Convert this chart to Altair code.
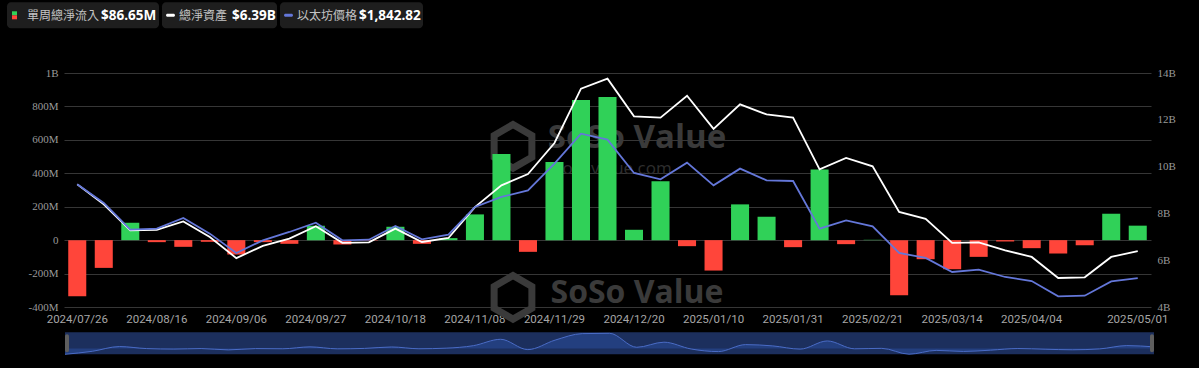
import altair as alt
import pandas as pd

# ---------------- data ----------------
dates = [
    "2024/07/26", "2024/08/02", "2024/08/09", "2024/08/16", "2024/08/23", "2024/08/30",
    "2024/09/06", "2024/09/13", "2024/09/20", "2024/09/27", "2024/10/04", "2024/10/11",
    "2024/10/18", "2024/10/25", "2024/11/01", "2024/11/08", "2024/11/15", "2024/11/22",
    "2024/11/29", "2024/12/06", "2024/12/13", "2024/12/20", "2024/12/27", "2025/01/03",
    "2025/01/10", "2025/01/17", "2025/01/24", "2025/01/31", "2025/02/07", "2025/02/14",
    "2025/02/21", "2025/02/28", "2025/03/07", "2025/03/14", "2025/03/21", "2025/03/28",
    "2025/04/04", "2025/04/11", "2025/04/18", "2025/04/25", "2025/05/01",
]
net_inflow_m = [
    -336, -166, 104, -12, -40, -10, -86, -12, -22, 86, -26, -2, 80, -22, 12, 154, 516, -70,
    468, 838, 856, 62, 352, -36, -182, 214, 140, -42, 422, -24, 2, -330, -114, -174, -100,
    -8, -48, -80, -30, 158, 86.65,
]
net_assets_b = [
    9.24, 8.39, 7.28, 7.30, 7.66, 6.99, 6.09, 6.61, 6.92, 7.45, 6.74, 6.76, 7.35, 6.78, 6.95,
    8.27, 9.20, 9.68, 11.01, 13.33, 13.76, 12.15, 12.09, 13.03, 11.61, 12.66, 12.23, 12.09,
    9.88, 10.37, 10.01, 8.06, 7.77, 6.74, 6.76, 6.42, 6.14, 5.24, 5.27, 6.14, 6.39,
]
eth_price = [
    3269, 2986, 2580, 2596, 2758, 2520, 2226, 2418, 2545, 2687, 2418, 2428, 2636, 2434, 2505,
    2925, 3077, 3178, 3584, 4039, 3948, 3442, 3345, 3599, 3254, 3508, 3330, 3320, 2596, 2722,
    2631, 2226, 2150, 1937, 1973, 1861, 1800, 1567, 1577, 1795, 1842.82,
]
x_label_dates = [dates[i] for i in range(0, 37, 3)] + [dates[-1]]
left_ticks = [-400, -200, 0, 200, 400, 600, 800, 1000]
right_ticks = [4, 6, 8, 10, 12, 14]

legend_labels = ["單周總淨流入", "總淨資產", "以太坊價格"]
legend_values = ["$86.65M", "$6.39B", "$1,842.82"]
watermark_text = "SoSo Value"
watermark_sub = "sosovalue.com"

# ---------------- styles ----------------
GREEN = "#30d158"
RED = "#ff453a"
WHITE = "#ffffff"
BLUE = "#6477d9"
GRID = "#363636"
BG = "#000000"

W, H = 1087, 234
OX, OY = 64, 72.7  # page position of plot origin


def px(v):
    return v - OX


def py(v):
    return v - OY


df = pd.DataFrame({
    "date": dates,
    "flow": net_inflow_m,
    "assets": net_assets_b,
    "price": eth_price,
})
df["sign"] = ["in" if v >= 0 else "out" for v in df["flow"]]
df["idx"] = list(range(len(dates)))

dummy = pd.DataFrame({"k": [0]})


def rect(x1, y1, x2, y2, color, r=0):
    return alt.Chart(dummy).mark_rect(color=color, cornerRadius=r).encode(
        x=alt.value(px(x1)), x2=alt.value(px(x2)), y=alt.value(py(y1)), y2=alt.value(py(y2))
    )


def text(s, x, y, size, color, weight="normal", font="Noto Sans CJK TC", align="left", **kw):
    return alt.Chart(dummy).mark_text(
        text=s, fontSize=size, color=color, fontWeight=weight, font=font,
        align=align, baseline="middle", **kw
    ).encode(x=alt.value(px(x)), y=alt.value(py(y)))


hexpath = "M0,-1L0.866,-0.5L0.866,0.5L0,1L-0.866,0.5L-0.866,-0.5Z"


def logo(x, y):
    return alt.Chart(dummy).mark_point(
        shape=hexpath, size=1900, filled=False, stroke="#3a3a3a", strokeWidth=7, opacity=1
    ).encode(x=alt.value(px(x)), y=alt.value(py(y)))


bars = alt.Chart(df).mark_bar().encode(
    x=alt.X(
        "date:N", sort=None,
        scale=alt.Scale(paddingInner=0.32, paddingOuter=0.16),
        axis=alt.Axis(
            values=x_label_dates, labelAngle=0, ticks=False, domain=False, grid=False,
            labelColor="#a6a6a6", labelFont="Roboto", labelFontSize=11.5, labelPadding=6,
            title=None,
        ),
    ),
    y=alt.Y(
        "flow:Q",
        scale=alt.Scale(domain=[-400, 1000], nice=False, zero=False),
        axis=alt.Axis(
            orient="left", values=left_ticks,
            labelExpr="datum.value == 0 ? '0' : (datum.value >= 1000 ? '1B' : datum.value + 'M')",
            grid=True, gridColor=GRID, gridWidth=1, domain=False, ticks=False, title=None,
            labelFont="Liberation Serif", labelFontSize=11, labelColor="#9a9a9a", labelPadding=6,
        ),
    ),
    color=alt.Color("sign:N", scale=alt.Scale(domain=["in", "out"], range=[GREEN, RED]), legend=None),
)

white_line = alt.Chart(df).mark_line(color=WHITE, strokeWidth=1.8).encode(
    x=alt.X("date:N", sort=None, axis=None),
    y=alt.Y(
        "assets:Q",
        scale=alt.Scale(domain=[4, 14], nice=False, zero=False),
        axis=alt.Axis(
            orient="right", values=right_ticks, labelExpr="datum.value + 'B'",
            grid=False, domain=False, ticks=False, title=None,
            labelFont="Liberation Serif", labelFontSize=11, labelColor="#9a9a9a", labelPadding=6,
        ),
    ),
)

blue_line = alt.Chart(df).mark_line(color=BLUE, strokeWidth=1.8).encode(
    x=alt.X("date:N", sort=None, axis=None),
    y=alt.Y("price:Q", scale=alt.Scale(domain=[1405, 4961], nice=False, zero=False), axis=None),
)

watermarks = [
    logo(513, 146),
    text(watermark_text, 637, 138, 33, "#3a3a3a", weight="bold", font="Open Sans", align="center"),
    text(watermark_sub, 613, 169, 17, "#2e2e2e", font="Open Sans", align="center"),
    logo(513, 297),
    text(watermark_text, 637, 293, 32, "#3a3a3a", weight="bold", font="Open Sans", align="center"),
]

legend = [
    rect(7, 2, 159, 28, "#1e1e1e", 4),
    rect(162, 2, 277, 28, "#1e1e1e", 4),
    rect(280, 2, 423, 28, "#1e1e1e", 4),
    rect(12, 11, 17, 15, GREEN, 0),
    rect(12, 15, 17, 19, RED, 0),
    rect(166, 13.5, 175, 16.5, WHITE, 1.5),
    rect(284, 13.5, 293, 16.5, BLUE, 1.5),
    text(legend_labels[0], 27, 15.5, 12, "#c4c4c4"),
    text(legend_values[0], 101, 15.5, 13.5, WHITE, weight="bold", font="Open Sans"),
    text(legend_labels[1], 179, 15.5, 12, "#c4c4c4"),
    text(legend_values[1], 232, 15.5, 13.5, WHITE, weight="bold", font="Open Sans"),
    text(legend_labels[2], 297, 15.5, 12, "#c4c4c4"),
    text(legend_values[2], 359, 15.5, 13.5, WHITE, weight="bold", font="Open Sans"),
]

# ---------------- slider (data zoom), drawn below the plot ----------------
SX1, SX2, SY1, SY2 = 65, 1154, 332, 354
s_bg = rect(SX1, SY1, SX2, SY2, "#1c2f5d", 0)
s_area = alt.Chart(df).mark_area(
    interpolate="monotone", color="#27468f",
    line={"color": "#4a6cc6", "strokeWidth": 1},
).encode(
    x=alt.X("idx:Q", scale=alt.Scale(domain=[0, len(dates) - 1], nice=False, zero=False,
                                     range=[px(SX1), px(SX2)]), axis=None),
    y=alt.Y("flow:Q", scale=alt.Scale(domain=[min(net_inflow_m), max(net_inflow_m)], nice=False,
                                      zero=False, range=[py(SY2), py(SY1 + 1)]), axis=None),
    y2=alt.value(py(SY2)),
)
s_h1 = rect(SX1, SY1 + 2, SX1 + 4, SY2 - 2, "#5e5e5e", 2)
s_h2 = rect(SX2 - 4, SY1 + 2, SX2, SY2 - 2, "#5e5e5e", 2)

chart = alt.layer(
    *watermarks, bars, white_line, blue_line, *legend, s_bg, s_area, s_h1, s_h2
).resolve_scale(
    x="independent", y="independent"
).properties(
    width=W, height=H, background=BG,
    padding={"left": 7, "top": 2, "right": 23, "bottom": 14},
).configure_view(stroke=None)

chart.save("out.html", embed_options={"renderer": "svg", "actions": False})
